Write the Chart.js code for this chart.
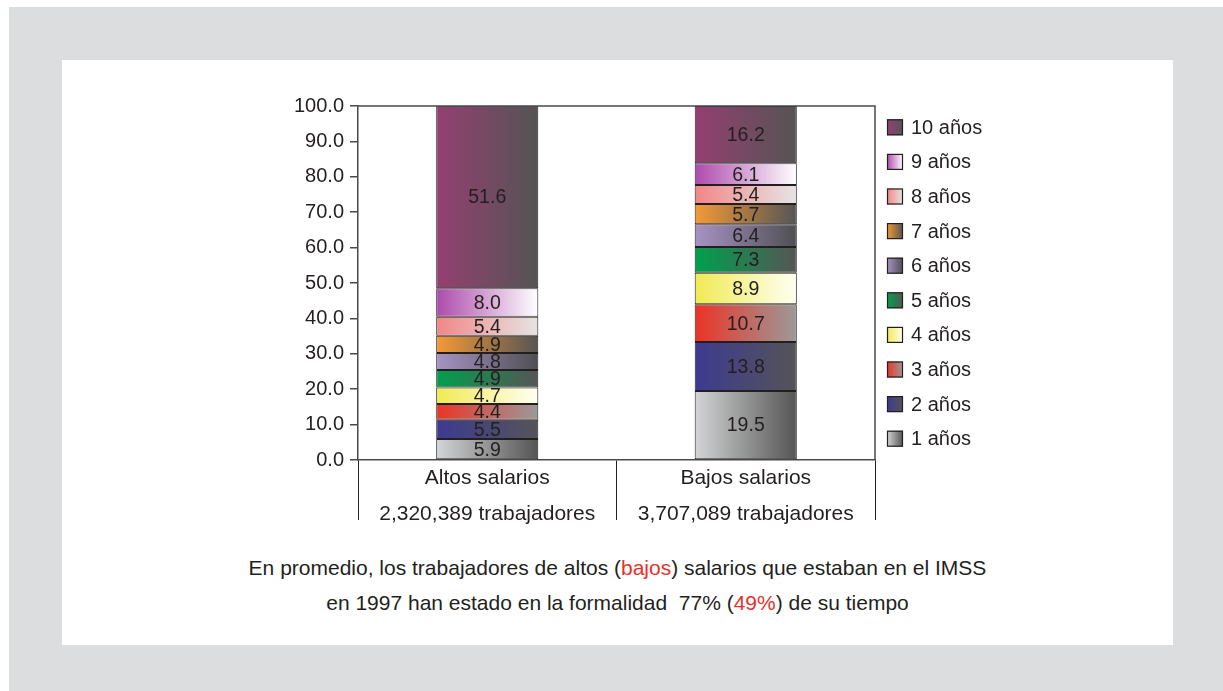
<!DOCTYPE html>
<html>
<head>
<meta charset="utf-8">
<script src="https://cdn.jsdelivr.net/npm/chart.js@4.4.1/dist/chart.umd.min.js"></script>
<style>
  body { margin: 0; background: #fff; font-family: "Liberation Sans", Arial, sans-serif; }
  #frame { position: absolute; left: 9px; top: 7px; width: 1214px; height: 684px; background: #dcddde; }
  #panel { position: absolute; left: 62px; top: 60px; width: 1111px; height: 585px; background: #fff; }
  #wrap { position: absolute; left: 280px; top: 88px; width: 740px; height: 442px; }
  #note { position: absolute; left: 62px; top: 550px; width: 1111px; text-align: center;
          font-size: 21px; line-height: 35px; color: #231f20; }
  #note .r { color: #e8302a; }
</style>
</head>
<body>
<div id="frame"></div>
<div id="panel"></div>
<div id="wrap"><canvas id="c"></canvas></div>
<div id="note">
  En promedio, los trabajadores de altos (<span class="r">bajos</span>) salarios que estaban en el IMSS<br>
  en 1997 han estado en la formalidad&nbsp; 77% (<span class="r">49%</span>) de su tiempo
</div>
<script>
const categories = [
  ["Altos salarios", "2,320,389 trabajadores"],
  ["Bajos salarios", "3,707,089 trabajadores"],
];
const seriesNames = ["1 años","2 años","3 años","4 años","5 años","6 años","7 años","8 años","9 años","10 años"];
const altos = [5.9, 5.5, 4.4, 4.7, 4.9, 4.8, 4.9, 5.4, 8.0, 51.6];
const bajos = [19.5, 13.8, 10.7, 8.9, 7.3, 6.4, 5.7, 5.4, 6.1, 16.2];
const yTicks = [0, 10, 20, 30, 40, 50, 60, 70, 80, 90, 100];

/* colour pairs: left edge -> right edge of each bar segment */
const GRAD = [
  ["#d4d5d6", "#545454"],
  ["#3d3a90", "#555458"],
  ["#ec3325", "#9a9a9a"],
  ["#f1ea52", "#fffff2"],
  ["#00a04e", "#555555"],
  ["#a893c4", "#4f4f53"],
  ["#f49a36", "#555555"],
  ["#f28686", "#e6e4e4"],
  ["#ad4aac", "#ffffff"],
  ["#953f72", "#545454"],
];
const INK = "#231f20";
const FONT = "'Liberation Sans', Arial, sans-serif";

function grad(ctx, x0, x1, pair) {
  const g = ctx.createLinearGradient(x0, 0, x1, 0);
  g.addColorStop(0, pair[0]);
  g.addColorStop(1, pair[1]);
  return g;
}

/* gradients per bar element, value labels, frame and legend */
const decor = {
  id: "decor",
  beforeDatasetsDraw(chart) {
    const ctx = chart.ctx;
    chart.data.datasets.forEach((ds, i) => {
      chart.getDatasetMeta(i).data.forEach(el => {
        el.options.backgroundColor = grad(ctx, el.x - el.width / 2, el.x + el.width / 2, GRAD[i]);
      });
    });
  },
  afterDatasetsDraw(chart) {
    const ctx = chart.ctx;
    ctx.save();
    ctx.font = "19.5px " + FONT;
    ctx.fillStyle = INK;
    ctx.textAlign = "center";
    ctx.textBaseline = "middle";
    chart.data.datasets.forEach((ds, i) => {
      chart.getDatasetMeta(i).data.forEach((el, j) => {
        ctx.fillText(ds.data[j].toFixed(1), el.x, (el.y + el.base) / 2 + 1);
      });
    });
    ctx.restore();
  },
  afterDraw(chart) {
    const { ctx, chartArea: a } = chart;
    ctx.save();
    ctx.strokeStyle = "#4a4a4a";
    ctx.lineWidth = 1.5;
    ctx.beginPath();
    ctx.moveTo(a.left, a.top);
    ctx.lineTo(a.right, a.top);
    ctx.lineTo(a.right, a.bottom);
    ctx.stroke();

    // legend, top item = last series
    const n = chart.data.datasets.length;
    const step = 34.6;
    const mid = (a.top + a.bottom) / 2;
    const bx = a.right + 12;
    ctx.font = "20px " + FONT;
    ctx.textBaseline = "middle";
    ctx.textAlign = "left";
    for (let k = 0; k < n; k++) {
      const i = n - 1 - k;
      const cy = mid + (k - (n - 1) / 2) * step;
      ctx.fillStyle = grad(ctx, bx, bx + 16, GRAD[i]);
      ctx.fillRect(bx, cy - 8, 16, 16);
      ctx.strokeStyle = INK;
      ctx.lineWidth = 1.2;
      ctx.strokeRect(bx + 0.5, cy - 7.5, 15, 15);
      ctx.fillStyle = INK;
      ctx.fillText(chart.data.datasets[i].label, bx + 24, cy + 1);
    }
    ctx.restore();
  },
};

const datasets = seriesNames.map((name, i) => ({
  label: name,
  data: [altos[i], bajos[i]],
  backgroundColor: () => GRAD[i][0],
  borderColor: INK,
  borderWidth: 1,
  borderSkipped: false,
  categoryPercentage: 0.395,
  barPercentage: 1,
}));

new Chart(document.getElementById("c"), {
  type: "bar",
  data: { labels: categories, datasets },
  plugins: [decor],
  options: {
    responsive: true,
    maintainAspectRatio: false,
    animation: false,
    layout: { padding: { top: 17, right: 145, bottom: 0, left: 0 } },
    plugins: { legend: { display: false }, tooltip: { enabled: false } },
    scales: {
      x: {
        stacked: true,
        afterFit: s => { s.height = 70; },
        border: { display: true, color: "#4a4a4a", width: 1.5 },
        grid: { display: true, drawOnChartArea: false, drawTicks: true, tickLength: 60, color: INK, lineWidth: 1 },
        ticks: { color: INK, padding: -60, font: { family: FONT, size: 21, lineHeight: 1.72 } },
      },
      y: {
        stacked: true,
        min: 0,
        max: 100,
        afterFit: s => { s.width = 78; },
        afterBuildTicks: s => { s.ticks = yTicks.map(v => ({ value: v })); },
        border: { display: true, color: "#4a4a4a", width: 1.5 },
        grid: { display: true, drawOnChartArea: false, drawTicks: true, tickLength: 8, color: "#4a4a4a", lineWidth: 1.5 },
        ticks: { color: INK, padding: 6, font: { family: FONT, size: 20 }, callback: v => v.toFixed(1) },
      },
    },
  },
});
</script>
</body>
</html>
